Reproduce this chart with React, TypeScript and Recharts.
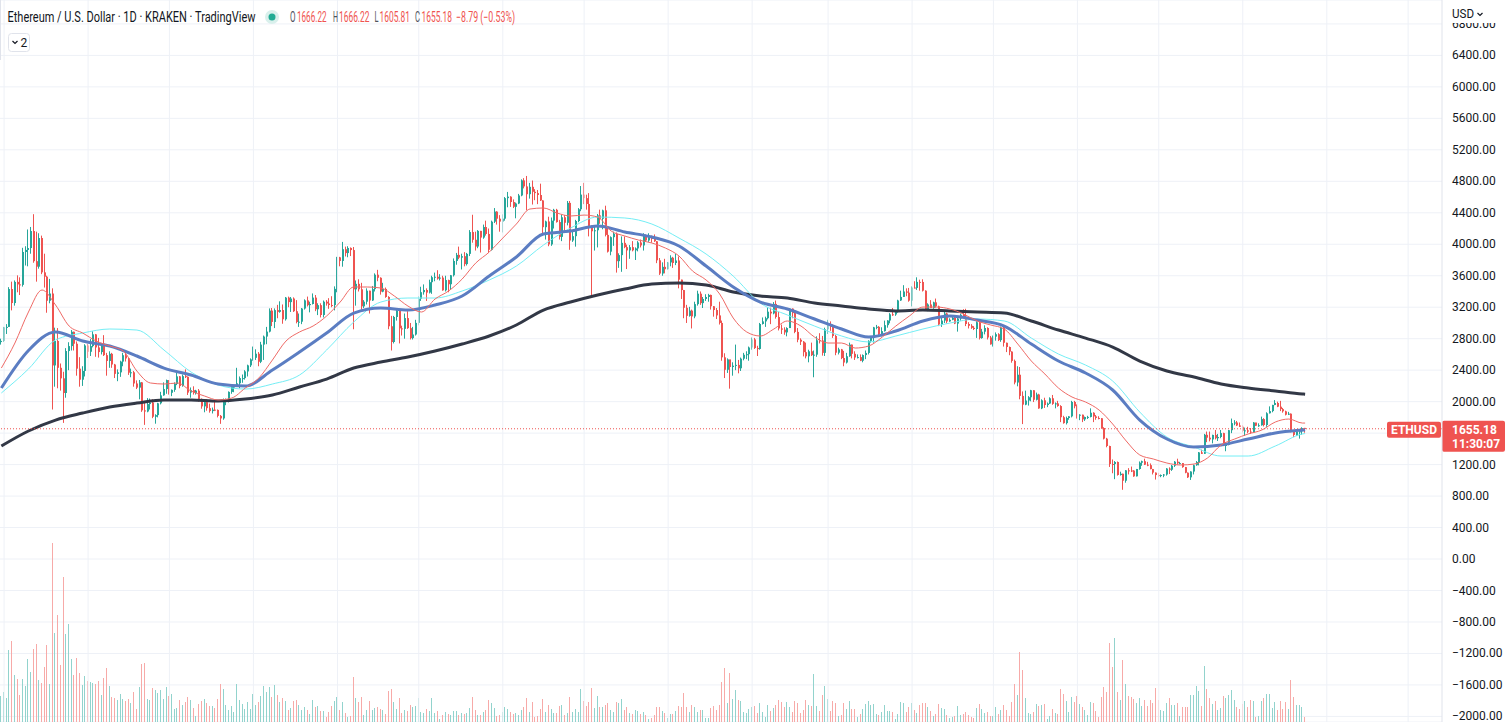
import React from "react";
import {
  ComposedChart,
  Bar,
  Line,
  XAxis,
  YAxis,
  CartesianGrid,
  ReferenceLine,
} from "recharts";

const UP = "#26a69a";
const DOWN = "#ef5350";
const UP_VOL = "#92d3cd";
const DOWN_VOL = "#f7aaa8";
const GRID = "#eef1f7";
const TEXT = "#131722";
const LABEL = "#50535e";
const FONT = "Roboto, 'Liberation Sans', Arial, sans-serif";

const W = 1511;
const H = 722;
const SLOTS = 532; // bar slots across the pane, the rest is empty space on the right
const SYMBOL = "ETHUSD";
const COUNTDOWN = "11:30:07";
const FIRST_OPEN = 2757;
const LAST_OPEN = 1666.22;

// daily [high, low, close], ETH/USD Kraken
const apr21 = [[2800, 2725, 2772]];
const may21 = [
  [2950, 2760, 2945], [2985, 2860, 2950], [3455, 2950, 3431], [3525, 3160, 3253], [3540, 3220, 3522], [3605, 3390, 3490], [3580, 3355, 3484], [3955, 3462, 3902], [3975, 3730, 3928], [4188, 3720, 3952],
  [4220, 3880, 4168], [4382, 3765, 3785], [4160, 3525, 3715], [4140, 3690, 4079], [4110, 3620, 3643], [3880, 3450, 3588], [3600, 3130, 3282], [3560, 3250, 3374], [3440, 1900, 2460], [2940, 2190, 2771],
  [2935, 2170, 2430], [2485, 2140, 2296], [2380, 1730, 2110], [2680, 2050, 2643], [2755, 2400, 2706], [2910, 2650, 2888], [2890, 2650, 2736], [2765, 2330, 2419], [2565, 2190, 2279], [2450, 2200, 2390],
  [2730, 2320, 2714],
];
const jun21 = [
  [2735, 2555, 2634], [2795, 2580, 2706], [2895, 2690, 2855], [2860, 2570, 2689], [2810, 2560, 2630], [2740, 2600, 2716], [2845, 2580, 2591], [2620, 2330, 2517], [2640, 2430, 2608], [2620, 2430, 2472],
  [2480, 2300, 2353], [2410, 2260, 2372], [2520, 2315, 2509], [2620, 2450, 2590], [2630, 2510, 2549], [2560, 2340, 2368], [2420, 2310, 2373], [2390, 2190, 2231], [2270, 2160, 2178], [2275, 2030, 2245],
  [2250, 1870, 1889], [2010, 1705, 1875], [2045, 1865, 1969], [2040, 1900, 1989], [2030, 1790, 1808], [1840, 1720, 1829], [1985, 1800, 1979], [2125, 1965, 2080], [2245, 2075, 2160], [2280, 2100, 2274],
];
const jul21 = [
  [2275, 2090, 2113], [2155, 2070, 2150], [2245, 2125, 2226], [2400, 2210, 2321], [2325, 2170, 2198], [2345, 2190, 2324], [2410, 2300, 2316], [2320, 2085, 2115], [2180, 2050, 2146], [2195, 2090, 2111],
  [2150, 2090, 2140], [2160, 2000, 2035], [2040, 1910, 1940], [2000, 1865, 1994], [2030, 1885, 1917], [1975, 1860, 1880], [1925, 1850, 1898], [1995, 1880, 1895], [1900, 1800, 1819], [1830, 1718, 1787],
  [2040, 1770, 1995], [2040, 1955, 2025], [2130, 1990, 2124], [2200, 2100, 2188], [2200, 2120, 2191], [2430, 2190, 2233], [2320, 2170, 2299], [2345, 2240, 2299], [2400, 2280, 2384], [2470, 2320, 2461],
  [2550, 2440, 2537],
];
const aug21 = [
  [2700, 2520, 2557], [2665, 2530, 2609], [2630, 2450, 2507], [2760, 2490, 2725], [2840, 2530, 2827], [2950, 2730, 2890], [3185, 2880, 3157], [3190, 2960, 3013], [3185, 2935, 3163], [3230, 3060, 3141],
  [3275, 3130, 3164], [3235, 2990, 3047], [3330, 3030, 3322], [3335, 3200, 3265], [3330, 3140, 3310], [3325, 3140, 3149], [3290, 2995, 3012], [3120, 2950, 3016], [3190, 2985, 3183], [3300, 3170, 3287],
  [3335, 3210, 3226], [3270, 3135, 3241], [3375, 3235, 3322], [3355, 3150, 3174], [3250, 3100, 3226], [3250, 3070, 3101], [3285, 3070, 3270], [3290, 3220, 3247], [3315, 3180, 3228], [3340, 3200, 3227],
  [3465, 3160, 3433],
];
const sep21 = [
  [3840, 3390, 3834], [3840, 3720, 3788], [4030, 3715, 3937], [3970, 3845, 3888], [3975, 3835, 3953], [3960, 3850, 3926], [3965, 2920, 3427], [3540, 3220, 3497], [3555, 3400, 3428], [3510, 3170, 3211],
  [3290, 3190, 3270], [3440, 3235, 3410], [3410, 3120, 3286], [3470, 3280, 3430], [3630, 3400, 3613], [3675, 3530, 3574], [3580, 3360, 3398], [3510, 3390, 3432], [3450, 3320, 3330], [3340, 2920, 2958],
  [3090, 2650, 2758], [3090, 2740, 3076], [3170, 3030, 3155], [3160, 2740, 2931], [2965, 2840, 2925], [3120, 2800, 3062], [3150, 2925, 2934], [3000, 2790, 2807], [2950, 2790, 2853], [3040, 2840, 3001],
];
const oct21 = [
  [3340, 2970, 3307], [3460, 3280, 3391], [3490, 3360, 3419], [3440, 3280, 3386], [3550, 3375, 3518], [3600, 3370, 3581], [3640, 3530, 3587], [3670, 3550, 3563], [3620, 3540, 3576], [3600, 3410, 3415],
  [3600, 3400, 3545], [3550, 3390, 3492], [3610, 3430, 3606], [3820, 3590, 3788], [3890, 3740, 3865], [3970, 3810, 3830], [3880, 3680, 3848], [3900, 3720, 3748], [3890, 3730, 3878], [4180, 3850, 4155],
  [4375, 4020, 4057], [4160, 3920, 3971], [4180, 3950, 4170], [4170, 3895, 4085], [4250, 4070, 4219], [4300, 4110, 4131], [4200, 3890, 3930], [4300, 3920, 4287], [4460, 4270, 4415], [4420, 4250, 4325],
  [4370, 4160, 4288],
];
const nov21 = [
  [4380, 4150, 4325], [4600, 4300, 4586], [4665, 4470, 4605], [4610, 4475, 4537], [4570, 4460, 4476], [4530, 4330, 4518], [4640, 4510, 4620], [4825, 4610, 4812], [4840, 4710, 4735], [4868, 4430, 4636],
  [4780, 4580, 4730], [4810, 4505, 4667], [4700, 4560, 4650], [4690, 4510, 4626], [4770, 4550, 4557], [4560, 4110, 4217], [4300, 4060, 4290], [4350, 3975, 3998], [4340, 3980, 4300], [4450, 4200, 4438],
  [4450, 4275, 4282], [4310, 4060, 4094], [4375, 4040, 4343], [4370, 4170, 4273], [4550, 4240, 4526], [4550, 3930, 4048], [4180, 4030, 4103], [4310, 3970, 4295], [4460, 4280, 4445], [4740, 4420, 4631],
];
const dec21 = [
  [4780, 4510, 4586], [4630, 4440, 4512], [4650, 4100, 4225], [4240, 3350, 4165], [4230, 3920, 4178], [4385, 3960, 4367], [4440, 4260, 4324], [4440, 4190, 4431], [4490, 4100, 4119], [4220, 3895, 3906],
  [4100, 3860, 4090], [4160, 3980, 4134], [4150, 3640, 3785], [3885, 3700, 3862], [4100, 3650, 4018], [4100, 3950, 3963], [3995, 3685, 3922], [3990, 3815, 3963], [4040, 3910, 3923], [3960, 3800, 3947],
  [4040, 3910, 4023], [4060, 3960, 3985], [4140, 3920, 4109], [4125, 4030, 4048], [4140, 4030, 4096], [4110, 4020, 4067], [4125, 4030, 4038], [4040, 3760, 3796], [3825, 3610, 3628], [3770, 3600, 3713],
  [3815, 3630, 3683],
];
const jan22 = [
  [3775, 3680, 3769], [3860, 3720, 3829], [3840, 3700, 3762], [3880, 3735, 3794], [3845, 3440, 3550], [3550, 3305, 3418], [3420, 3060, 3193], [3230, 3000, 3090], [3205, 3080, 3157], [3170, 2930, 3083],
  [3270, 3060, 3239], [3410, 3220, 3372], [3400, 3230, 3252], [3330, 3190, 3305], [3365, 3280, 3330], [3370, 3270, 3356], [3360, 3170, 3212], [3215, 3080, 3164], [3190, 3050, 3096], [3270, 2980, 3000],
  [3030, 2520, 2563], [2615, 2300, 2405], [2550, 2365, 2537], [2465, 2165, 2440], [2500, 2330, 2457], [2725, 2400, 2467], [2530, 2360, 2424], [2560, 2390, 2546], [2620, 2525, 2596], [2640, 2540, 2603],
  [2700, 2520, 2688],
];
const feb22 = [
  [2815, 2660, 2791], [2810, 2670, 2681], [2710, 2580, 2670], [3000, 2660, 2987], [3070, 2980, 3020], [3080, 2950, 3060], [3200, 3045, 3143], [3195, 2985, 3121], [3265, 3110, 3242], [3285, 3055, 3075],
  [3140, 2905, 2930], [2980, 2860, 2915], [2945, 2850, 2880], [2945, 2830, 2935], [3190, 2940, 3182], [3185, 3060, 3125], [3160, 2870, 2886], [2935, 2755, 2787], [2805, 2720, 2762], [2770, 2575, 2629],
  [2750, 2550, 2576], [2660, 2500, 2640], [2750, 2580, 2590], [2650, 2310, 2597], [2830, 2570, 2780], [2870, 2740, 2777], [2835, 2585, 2620], [2940, 2580, 2919],
];
const mar22 = [
  [3040, 2860, 2973], [3020, 2900, 2950], [2980, 2810, 2835], [2850, 2590, 2622], [2685, 2600, 2664], [2670, 2540, 2554], [2645, 2450, 2497], [2620, 2485, 2577], [2750, 2570, 2725], [2725, 2550, 2608],
  [2640, 2530, 2561], [2600, 2550, 2566], [2600, 2515, 2520], [2600, 2500, 2592], [2650, 2540, 2619], [2780, 2600, 2772], [2830, 2750, 2814], [2950, 2750, 2944], [2975, 2920, 2951], [2960, 2845, 2860],
  [2945, 2830, 2896], [3030, 2890, 2972], [3035, 2940, 3031], [3125, 2995, 3110], [3190, 3090, 3107], [3150, 3090, 3143], [3295, 3130, 3286], [3410, 3280, 3331], [3480, 3330, 3400], [3440, 3340, 3385],
  [3445, 3270, 3283],
];
const apr22 = [
  [3465, 3210, 3450], [3530, 3440, 3445], [3580, 3420, 3522], [3550, 3410, 3521], [3555, 3400, 3410], [3415, 3160, 3174], [3250, 3150, 3235], [3290, 3190, 3190], [3270, 3180, 3262], [3310, 3195, 3211],
  [3220, 2960, 2980], [3090, 2950, 3030], [3140, 3000, 3120], [3130, 2995, 3019], [3060, 3015, 3040], [3080, 3035, 3063], [3080, 2985, 2992], [3065, 2890, 3056], [3120, 3030, 3104], [3175, 3060, 3078],
  [3180, 2960, 2987], [3010, 2930, 2964], [2985, 2925, 2938], [2960, 2910, 2923], [3020, 2810, 3009], [3040, 2790, 2808], [2925, 2800, 2889], [2970, 2855, 2936], [2945, 2790, 2815], [2835, 2725, 2728],
];
const may22 = [
  [2840, 2700, 2826], [2880, 2775, 2857], [2870, 2770, 2782], [2955, 2760, 2940], [2955, 2700, 2748], [2750, 2630, 2694], [2700, 2590, 2636], [2640, 2495, 2518], [2535, 2220, 2243], [2450, 2195, 2342],
  [2440, 2030, 2073], [2130, 1715, 1962], [2140, 1955, 2014], [2070, 1950, 2056], [2150, 2005, 2145], [2145, 1995, 2024], [2115, 2015, 2091], [2100, 1910, 1914], [2030, 1905, 2017], [2050, 1920, 1957],
  [1990, 1930, 1976], [2055, 1970, 2043], [2085, 1960, 1972], [1990, 1915, 1978], [2010, 1935, 1944], [1955, 1740, 1802], [1820, 1720, 1727], [1810, 1710, 1792], [1815, 1770, 1813], [2010, 1800, 1996],
  [2010, 1915, 1942],
];
const jun22 = [
  [1965, 1785, 1823], [1840, 1765, 1834], [1835, 1740, 1775], [1810, 1755, 1805], [1820, 1780, 1806], [1915, 1800, 1859], [1865, 1740, 1812], [1830, 1770, 1793], [1815, 1775, 1789], [1790, 1655, 1665],
  [1675, 1520, 1530], [1540, 1420, 1436], [1440, 1170, 1208], [1265, 1090, 1207], [1245, 1015, 1233], [1240, 1060, 1068], [1110, 1060, 1084], [1085, 880, 995], [1130, 970, 1127], [1155, 1075, 1125],
  [1175, 1105, 1124], [1130, 1045, 1051], [1145, 1050, 1144], [1240, 1135, 1224], [1250, 1185, 1243], [1275, 1195, 1199], [1235, 1180, 1193], [1215, 1140, 1143], [1145, 1075, 1098], [1100, 1010, 1067],
];
const jul22 = [
  [1095, 1040, 1060], [1075, 1040, 1067], [1080, 1040, 1074], [1155, 1060, 1150], [1165, 1080, 1135], [1195, 1120, 1186], [1245, 1170, 1237], [1275, 1200, 1217], [1235, 1205, 1219], [1220, 1160, 1168],
  [1170, 1090, 1097], [1100, 1030, 1038], [1115, 1005, 1112], [1200, 1075, 1192], [1245, 1185, 1233], [1360, 1190, 1355], [1390, 1335, 1338], [1590, 1335, 1579], [1620, 1485, 1542], [1620, 1495, 1520],
  [1580, 1470, 1577], [1640, 1520, 1535], [1590, 1500, 1551], [1640, 1535, 1600], [1605, 1435, 1441], [1460, 1370, 1449], [1640, 1445, 1637], [1785, 1600, 1727], [1765, 1700, 1735], [1755, 1690, 1697],
  [1735, 1680, 1681],
];
const aug22 = [
  [1700, 1610, 1630], [1670, 1565, 1635], [1680, 1600, 1619], [1665, 1590, 1609], [1740, 1605, 1735], [1730, 1690, 1694], [1725, 1680, 1700], [1810, 1695, 1778], [1790, 1685, 1703], [1865, 1680, 1852],
  [1940, 1850, 1880], [1960, 1865, 1958], [2020, 1955, 1983], [2000, 1930, 1936], [2010, 1880, 1905], [1920, 1860, 1877], [1885, 1825, 1834], [1870, 1830, 1847], [1850, 1610, 1618], [1625, 1550, 1577],
  [1630, 1565, 1620], [1630, 1530, 1623], [1675, 1580, 1663.97], [1666.22, 1605.81, 1655.18],
];

const DAYS = [
  ...apr21, ...may21, ...jun21, ...jul21, ...aug21, ...sep21, ...oct21, ...nov21, ...dec21,
  ...jan22, ...feb22, ...mar22, ...apr22, ...may22, ...jun22, ...jul22, ...aug22,
];

// volume, thousands (Apr 30 2021 .. Dec 27 2021)
const volume21 = [
  26, 30, 24, 72, 81, 47, 43, 27, 43, 36, 63,
  50, 73, 78, 42, 39, 55, 77, 38, 179, 89,
  107, 57, 145, 88, 98, 63, 47, 64, 49, 37,
  46, 41, 40, 39, 38, 41, 27, 44, 54, 36,
  25, 24, 22, 28, 23, 21, 23, 19, 30, 13,
  35, 58, 59, 23, 22, 34, 32, 29, 32, 23,
  35, 26, 28, 13, 14, 22, 17, 20, 25, 22,
  14, 6, 18, 21, 23, 19, 16, 16, 14, 23,
  38, 33, 17, 12, 16, 10, 38, 22, 18, 13,
  20, 13, 28, 17, 20, 26, 36, 30, 35, 25,
  37, 27, 20, 24, 21, 12, 14, 21, 22, 17,
  12, 15, 12, 8, 22, 15, 16, 11, 11, 5,
  10, 16, 21, 25, 12, 20, 9, 5, 6, 45,
  24, 20, 25, 7, 12, 21, 12, 14, 15, 13,
  12, 8, 31, 33, 20, 13, 24, 9, 12, 11,
  17, 15, 16, 24, 10, 9, 13, 11, 24, 9,
  11, 3, 7, 10, 8, 7, 11, 11, 7, 9,
  8, 9, 14, 25, 12, 7, 7, 10, 12, 22,
  19, 14, 6, 7, 10, 15, 13, 10, 8, 9,
  7, 12, 15, 24, 10, 20, 5, 6, 13, 23,
  10, 17, 13, 9, 9, 16, 17, 7, 9, 25,
  10, 13, 10, 33, 21, 16, 20, 34, 14, 26,
  15, 15, 17, 19, 12, 10, 20, 19, 23, 12,
  15, 9, 8, 12, 11, 8, 10, 7, 3, 4,
  7, 15, 15,
];
// volume, thousands (Dec 28 2021 .. Aug 24 2022)
const volume22 = [
  11, 9, 4, 8, 8, 11, 16, 15, 29, 15,
  10, 17, 15, 10, 12, 12, 4, 4, 14, 16,
  12, 17, 40, 54, 19, 49, 23, 32, 22, 21,
  10, 9, 13, 15, 16, 9, 19, 10, 5, 17,
  11, 14, 17, 22, 20, 15, 20, 15, 10, 21,
  19, 9, 12, 22, 17, 16, 48, 16, 11, 27,
  36, 23, 11, 21, 19, 6, 7, 19, 13, 21,
  13, 13, 5, 8, 13, 18, 21, 17, 18, 8,
  7, 10, 17, 11, 11, 10, 3, 8, 20, 19,
  10, 15, 19, 12, 9, 17, 19, 19, 15, 11,
  6, 8, 18, 14, 13, 7, 4, 5, 6, 16, 7,
  8, 10, 7, 5, 4, 14, 18, 13, 9, 10,
  6, 6, 15, 8, 12, 17, 12, 6, 20, 38,
  27, 70, 52, 24, 9, 8, 10, 18, 16, 17,
  18, 3, 6, 13, 9, 8, 33, 28, 21, 10,
  25, 20, 26, 18, 15, 12, 7, 20, 19, 11,
  5, 25, 35, 30, 79, 55, 84, 30, 22, 62,
  38, 26, 25, 23, 19, 24, 16, 22, 16, 22,
  19, 34, 22, 12, 11, 19, 24, 17, 17, 19,
  6, 15, 15, 15, 27, 27, 36, 31, 16, 56,
  33, 24, 18, 21, 12, 14, 26, 24, 27, 32,
  22, 15, 13, 18, 21, 15, 22, 21, 5, 6,
  21, 24, 28, 28, 14, 20, 12, 21, 13, 20,
  13, 42, 25, 17, 17, 15, 5,
];
const VOLUME = [...volume21, ...volume22];

// moving averages read every 10th bar (and the last one)
const MA_STEP = 10;
const sma200 = [
  1436, 1627, 1766, 1855, 1932, 1982, 2021, 2021, 2008, 2033,
  2084, 2186, 2287, 2427, 2503, 2567, 2643, 2732, 2834, 2974,
  3164, 3266, 3355, 3431, 3495, 3507, 3482, 3393, 3342, 3317,
  3253, 3215, 3177, 3152, 3164, 3152, 3139, 3126, 3025, 2910,
  2808, 2694, 2516, 2389, 2313, 2224, 2173, 2135, 2097, 2094,
];
const ema50 = [
  2173, 2650, 2885, 2770, 2707, 2580, 2427, 2338, 2224, 2198,
  2402, 2631, 2872, 3126, 3190, 3164, 3228, 3342, 3596, 3838,
  4130, 4168, 4232, 4156, 4092, 3978, 3723, 3457, 3266, 3177,
  3050, 2923, 2821, 2897, 3025, 3088, 3037, 2961, 2732, 2516,
  2364, 2148, 1766, 1525, 1423, 1449, 1525, 1601, 1639, 1642,
];
const sma50 = [
  2110, 2415, 2783, 2872, 2923, 2910, 2656, 2376, 2211, 2160,
  2224, 2338, 2656, 3012, 3266, 3317, 3317, 3406, 3546, 3723,
  3990, 4206, 4346, 4334, 4257, 4079, 3876, 3596, 3253, 3101,
  2961, 2834, 2758, 2834, 2923, 2999, 3050, 3025, 2808, 2605,
  2465, 2262, 1868, 1550, 1423, 1309, 1309, 1436, 1589, 1595,
];
// faster average, read every 5th bar (and the last one)
const EMA20_STEP = 5;
const ema20 = [
  2427, 2745, 3139, 3419, 3228, 2961, 2872, 2770, 2707, 2643,
  2389, 2237, 2224, 2237, 2135, 2071, 2021, 2046, 2173, 2300,
  2529, 2770, 2885, 2961, 3088, 3266, 3457, 3457, 3444, 3342,
  3215, 3139, 3304, 3406, 3558, 3761, 3901, 4079, 4257, 4448,
  4461, 4397, 4359, 4371, 4346, 4168, 4105, 4054, 4016, 3952,
  3851, 3660, 3546, 3368, 3063, 2885, 2834, 2923, 3025, 2961,
  2821, 2745, 2745, 2681, 2707, 2821, 2961, 3088, 3202, 3202,
  3177, 3113, 3025, 2974, 2923, 2732, 2516, 2351, 2173, 2059,
  1995, 1893, 1716, 1500, 1322, 1271, 1220, 1195, 1207, 1284,
  1449, 1525, 1589, 1639, 1741, 1779, 1728, 1728,
];

const PRICE_TICKS = [
  -2000, -1600, -1200, -800, -400, 0, 400, 800, 1200, 1600, 2000, 2400,
  2800, 3200, 3600, 4000, 4400, 4800, 5200, 5600, 6000, 6400, 6800,
];
const PRICE_DOMAIN = [-2071, 7104];
const VOL_DOMAIN = [0, 722];

const lastIdx = DAYS.length - 1;

const rows: any[] = Array.from({ length: SLOTS }, (_, i) => {
  const date = new Date(Date.UTC(2021, 3, 30 + i)).toISOString().slice(0, 10);
  const row: any = { date };
  const d = DAYS[i];
  if (d) {
    const o = i === 0 ? FIRST_OPEN : i === lastIdx ? LAST_OPEN : DAYS[i - 1][2];
    Object.assign(row, { o, h: d[0], l: d[1], c: d[2], up: d[2] >= o, vol: VOLUME[i] });
  }
  return row;
});

const maSlot = (k: number, step: number, len: number) => (k === len - 1 ? lastIdx : k * step);
sma200.forEach((v, k) => (rows[maSlot(k, MA_STEP, sma200.length)].sma200 = v));
ema50.forEach((v, k) => (rows[maSlot(k, MA_STEP, ema50.length)].ema50 = v));
sma50.forEach((v, k) => (rows[maSlot(k, MA_STEP, sma50.length)].sma50 = v));
ema20.forEach((v, k) => (rows[maSlot(k, EMA20_STEP, ema20.length)].ema20 = v));

const MONTH_TICKS = rows.filter((r) => r.date.endsWith("-01")).map((r) => r.date);

const last = rows[lastIdx];
const prevClose = DAYS[lastIdx - 1][2];
const fmt = (v: number) => (v < 0 ? "\u2212" : "") + Math.abs(v).toFixed(2);
const change = last.c - prevClose;
const changePct = (change / prevClose) * 100;

function PriceTick(p: any) {
  const v = p.payload.value;
  // the last-price tag covers labels close to it
  if (Math.abs(v - last.c) < 250) return null;
  return (
    <text x={p.x} y={p.y + 4} textAnchor="start" fontSize={12} fill={TEXT} fontFamily={FONT}>
      {fmt(v)}
    </text>
  );
}

function Candle(p: any) {
  const d = p.payload;
  if (!d || d.c == null || !Number.isFinite(p.y) || !Number.isFinite(p.height)) return null;
  const span = d.h - d.l;
  const k = span > 0 ? p.height / span : 0;
  const yO = p.y + (d.h - d.o) * k;
  const yC = p.y + (d.h - d.c) * k;
  const cx = Math.round(p.x + p.width / 2);
  const fill = d.up ? UP : DOWN;
  return (
    <g>
      <rect x={cx - 1} y={p.y} width={1} height={Math.max(1, p.height)} fill={fill} />
      <rect x={cx - 1} y={Math.min(yO, yC)} width={2} height={Math.max(1, Math.abs(yO - yC))} fill={fill} />
    </g>
  );
}

function VolumeBar(p: any) {
  const d = p.payload;
  if (!d || d.vol == null || !(p.height > 0)) return null;
  const cx = Math.round(p.x + p.width / 2);
  return <rect x={cx - 1} y={p.y} width={1} height={p.height} fill={d.up ? UP_VOL : DOWN_VOL} />;
}

function PriceTags(p: any) {
  const vb = p.viewBox;
  if (!vb) return null;
  const y = vb.y;
  const right = vb.x + vb.width;
  return (
    <g fontFamily={FONT} fontWeight={700} fontSize={12} fill="#fff">
      <rect x={right - 55} y={y - 7} width={54} height={16} rx={2} fill={DOWN} />
      <text x={right - 28} y={y + 5} textAnchor="middle" fill="#fff">{SYMBOL}</text>
      <rect x={right} y={y - 8} width={63} height={31} rx={2} fill={DOWN} />
      <text x={right + 10} y={y + 5.5} fill="#fff">{fmt(last.c)}</text>
      <text x={right + 10} y={y + 19} fill="#fff">{COUNTDOWN}</text>
    </g>
  );
}

// the pane legend uses a narrow face: draw it horizontally condensed
const TITLE_SX = 0.75;
const LEGEND_SX = 0.62;

export default function App() {
  const legend = [
    { t: "O", x: 290, len: 5.5, fill: LABEL },
    { t: fmt(last.o), x: 297, len: 29.5, fill: DOWN },
    { t: "H", x: 333, len: 5, fill: LABEL },
    { t: fmt(last.h), x: 339, len: 30.5, fill: DOWN },
    { t: "L", x: 374.5, len: 4, fill: LABEL },
    { t: fmt(last.l), x: 379.5, len: 30.5, fill: DOWN },
    { t: "C", x: 415, len: 5, fill: LABEL },
    { t: fmt(last.c), x: 421.5, len: 30.5, fill: DOWN },
    { t: `${fmt(change)} (${fmt(changePct)}%)`, x: 456, len: 59, fill: DOWN },
  ];
  return (
    <div style={{ position: "fixed", left: 0, top: 0, width: W, height: H, background: "#fff", overflow: "hidden" }}>
      <ComposedChart
        width={W}
        height={H}
        data={rows}
        margin={{ top: 0, right: 0, bottom: 0, left: 0 }}
        barCategoryGap="10%"
      >
        <XAxis xAxisId="main" dataKey="date" ticks={MONTH_TICKS} interval={0} height={0} tick={false} tickLine={false} axisLine={false} />
        <XAxis xAxisId="vol" dataKey="date" hide />
        <YAxis
          yAxisId="price"
          orientation="right"
          type="number"
          width={69}
          domain={PRICE_DOMAIN}
          ticks={PRICE_TICKS}
          interval={0}
          allowDataOverflow
          tickSize={0}
          tickMargin={10}
          tickLine={false}
          axisLine={{ stroke: "#e0e3eb" }}
          tick={(p: any) => <PriceTick {...p} />}
        />
        <YAxis yAxisId="vol" type="number" hide domain={VOL_DOMAIN} allowDataOverflow />
        <CartesianGrid xAxisId="main" yAxisId="price" stroke={GRID} vertical={false} />
        {MONTH_TICKS.map((t) => (
          <ReferenceLine key={t} xAxisId="main" yAxisId="price" x={t} stroke={GRID} />
        ))}
        <Bar
          xAxisId="vol"
          yAxisId="vol"
          dataKey="vol"
          shape={(p: any) => <VolumeBar {...p} />}
          isAnimationActive={false}
        />
        <Bar
          xAxisId="main"
          yAxisId="price"
          dataKey={(r: any) => (r.c == null ? null : [r.l, r.h])}
          shape={(p: any) => <Candle {...p} />}
          isAnimationActive={false}
        />
        <Line xAxisId="main" yAxisId="price" dataKey="sma200" type="monotone" stroke="#323846" strokeWidth={3} dot={false} activeDot={false} connectNulls isAnimationActive={false} />
        <Line xAxisId="main" yAxisId="price" dataKey="sma50" type="monotone" stroke="#74eef5" strokeWidth={1} dot={false} activeDot={false} connectNulls isAnimationActive={false} />
        <Line xAxisId="main" yAxisId="price" dataKey="ema50" type="monotone" stroke="#5b7dc2" strokeWidth={3} dot={false} activeDot={false} connectNulls isAnimationActive={false} />
        <Line xAxisId="main" yAxisId="price" dataKey="ema20" type="monotone" stroke="#ef6a66" strokeWidth={1} dot={false} activeDot={false} connectNulls isAnimationActive={false} />
        <ReferenceLine
          xAxisId="main"
          yAxisId="price"
          y={last.c}
          stroke={DOWN}
          strokeDasharray="1 2"
          label={<PriceTags />}
        />
      </ComposedChart>
      <svg
        width={W}
        height={60}
        style={{ position: "absolute", left: 0, top: 0, pointerEvents: "none" }}
        fontFamily={FONT}
      >
        <rect x={0} y={0} width={1} height={H} fill="#e0e3eb" />
        <g transform={`translate(0,22.3) scale(${TITLE_SX},1)`}>
          <text x={7.5 / TITLE_SX} y={0} fontSize={14} fill={TEXT} textLength={248 / TITLE_SX} lengthAdjust="spacingAndGlyphs">
            Ethereum / U.S. Dollar · 1D · KRAKEN · TradingView
          </text>
        </g>
        <circle cx={272} cy={17} r={7} fill="#d9f0ec" />
        <circle cx={272} cy={17} r={3.5} fill="#22ab94" />
        <g transform={`translate(0,22.3) scale(${LEGEND_SX},1)`}>
          {legend.map((s, i) => (
            <text
              key={i}
              x={s.x / LEGEND_SX}
              y={0}
              fontSize={14}
              fill={s.fill}
              textLength={s.len / LEGEND_SX}
              lengthAdjust="spacingAndGlyphs"
            >
              {s.t}
            </text>
          ))}
        </g>
        <rect x={8.5} y={33.5} width={21} height={18} rx={3} fill="#fff" stroke="#e0e3eb" />
        <path d="M12.5 41 L15 43.5 L17.5 41" stroke={TEXT} strokeWidth={1.2} fill="none" />
        <text x={20.5} y={47} fontSize={12} fill={TEXT}>2</text>
        <rect x={1443} y={0} width={68} height={23} fill="#fff" />
        <text x={1452} y={18} fontSize={12} fill={TEXT} textLength={22} lengthAdjust="spacingAndGlyphs">USD</text>
        <path d="M1477.5 13 L1480 15.5 L1482.5 13" stroke={TEXT} strokeWidth={1.2} fill="none" />
      </svg>
    </div>
  );
}
